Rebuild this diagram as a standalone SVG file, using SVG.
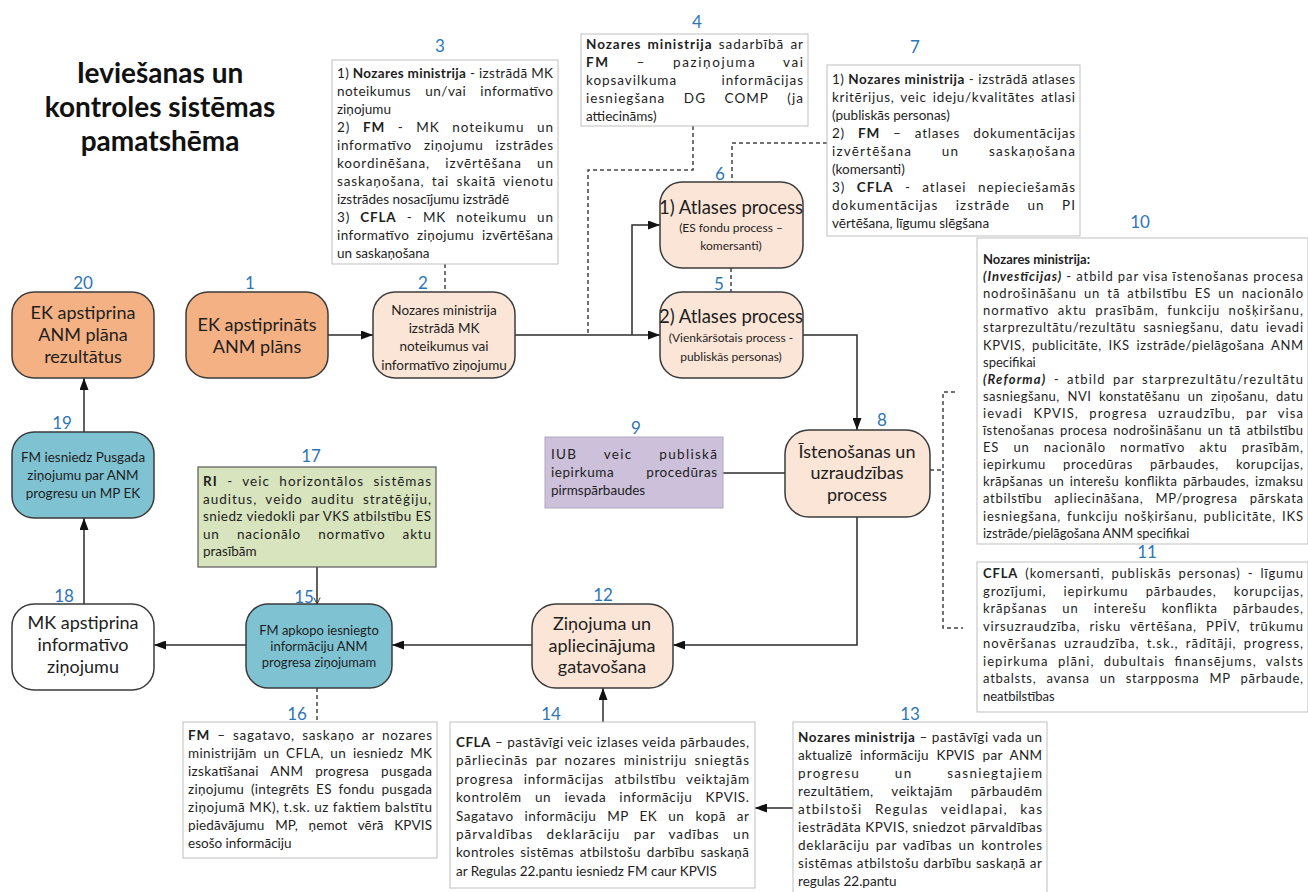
<svg xmlns="http://www.w3.org/2000/svg" width="1308" height="892" viewBox="0 0 1308 892">
<style>
text{font-family:Lato,"Liberation Sans",sans-serif;fill:#1e1e1e}
.t{font-size:13.5px}
.s{font-size:13px}
.b{font-weight:bold}
.bi{font-weight:bold;font-style:italic}
.n{font-size:17px;fill:#2E75B6;text-anchor:middle}
.nt{font-size:18px;text-anchor:middle}
.nm{font-size:13.5px;text-anchor:middle}
.ns{font-size:12px;text-anchor:middle}
.title{font-size:28px;font-weight:bold;text-anchor:middle;fill:#111}
.box{fill:#fff;stroke:#bfbfbf;stroke-width:1}
.nd{stroke:#3b3b3b;stroke-width:1.5}
.c{fill:none;stroke:#2b2b2b;stroke-width:1.5}
.d{fill:none;stroke:#444;stroke-width:1.5;stroke-dasharray:4 3}
</style>
<defs>
<marker id="a" viewBox="0 0 12 9" refX="12" refY="4.5" markerWidth="12" markerHeight="9" markerUnits="userSpaceOnUse" orient="auto"><path d="M0,0L12,4.5L0,9z" fill="#111"/></marker>
<marker id="o" viewBox="0 0 10 10" refX="9" refY="5" markerWidth="8" markerHeight="8" markerUnits="userSpaceOnUse" orient="auto"><path d="M1,1L9,5L1,9" fill="none" stroke="#333" stroke-width="1.2"/></marker>
</defs>

<g id="title">
<text class="title" x="160" y="83">Ieviešanas un</text>
<text class="title" x="160" y="117">kontroles sistēmas</text>
<text class="title" x="160" y="151">pamatshēma</text>
</g>

<g id="connectors">
<path class="c" d="M328,335H373" marker-end="url(#a)"/>
<path class="c" d="M515,335H660" marker-end="url(#a)"/>
<path class="c" d="M632,335V225H660" marker-end="url(#a)"/>
<path class="c" d="M803,335H857V430" marker-end="url(#a)"/>
<path class="c" d="M723,473H785"/>
<path class="c" d="M857,517V645H673" marker-end="url(#a)"/>
<path class="c" d="M603,722V688" marker-end="url(#a)"/>
<path class="c" d="M793,808H755" marker-end="url(#a)"/>
<path class="c" d="M532,645H392" marker-end="url(#a)"/>
<path class="c" d="M246,645H154" marker-end="url(#a)"/>
<path class="c" d="M84,604V518" marker-end="url(#a)"/>
<path class="c" d="M84,432V378" marker-end="url(#a)"/>
<path class="c" d="M317,567V604" stroke-width="1" marker-end="url(#o)"/>
<path class="d" d="M445,264V292"/>
<path class="d" d="M693,126V170H588V335"/>
<path class="d" d="M827,143H732V182"/>
<path class="d" d="M731,268V292"/>
<path class="d" d="M317,688V722"/>
<path class="d" d="M930,470H943"/>
<path class="d" d="M955,392H943V628H963"/>
</g>

<g id="n3">
<rect class="box" x="332" y="60" width="226" height="204"/>
<text class="n" x="440" y="52">3</text>
<text class="t" x="337" y="78" textLength="216" lengthAdjust="spacing">1) <tspan class="b">Nozares ministrija</tspan> - izstrādā MK</text>
<text class="t" x="337" y="96" textLength="216" lengthAdjust="spacing" word-spacing="10">noteikumus un/vai informatīvo</text>
<text class="t" x="337" y="114">ziņojumu</text>
<text class="t" x="337" y="132" textLength="216" lengthAdjust="spacing" word-spacing="8">2) <tspan class="b">FM</tspan> - MK noteikumu un</text>
<text class="t" x="337" y="150" textLength="216" lengthAdjust="spacing" word-spacing="8">informatīvo ziņojumu izstrādes</text>
<text class="t" x="337" y="168" textLength="216" lengthAdjust="spacing" word-spacing="11">koordinēšana, izvērtēšana un</text>
<text class="t" x="337" y="186" textLength="216" lengthAdjust="spacing" word-spacing="3">saskaņošana, tai skaitā vienotu</text>
<text class="t" x="337" y="204">izstrādes nosacījumu izstrādē</text>
<text class="t" x="337" y="222" textLength="216" lengthAdjust="spacing" word-spacing="6">3) <tspan class="b">CFLA</tspan> - MK noteikumu un</text>
<text class="t" x="337" y="240" textLength="216" lengthAdjust="spacing" word-spacing="4">informatīvo ziņojumu izvērtēšana</text>
<text class="t" x="337" y="258">un saskaņošana</text>
</g>

<g id="n4">
<rect class="box" x="581" y="34" width="227" height="92"/>
<text class="n" x="697" y="28">4</text>
<text class="t" x="586" y="49" textLength="217" lengthAdjust="spacing" word-spacing="2"><tspan class="b">Nozares ministrija</tspan> sadarbībā ar</text>
<text class="t" x="586" y="67" textLength="217" lengthAdjust="spacing" word-spacing="22"><tspan class="b">FM</tspan> – paziņojuma vai</text>
<text class="t" x="586" y="85" textLength="217" lengthAdjust="spacing" word-spacing="40">kopsavilkuma informācijas</text>
<text class="t" x="586" y="103" textLength="217" lengthAdjust="spacing" word-spacing="14">iesniegšana DG COMP (ja</text>
<text class="t" x="586" y="121">attiecināms)</text>
</g>

<g id="n7">
<rect class="box" x="827" y="65" width="253" height="171"/>
<text class="n" x="915" y="53">7</text>
<text class="t" x="832" y="84" textLength="243" lengthAdjust="spacing">1) <tspan class="b">Nozares ministrija</tspan> - izstrādā atlases</text>
<text class="t" x="832" y="102" textLength="243" lengthAdjust="spacing" word-spacing="2">kritērijus, veic ideju/kvalitātes atlasi</text>
<text class="t" x="832" y="120">(publiskās personas)</text>
<text class="t" x="832" y="138" textLength="243" lengthAdjust="spacing" word-spacing="9">2) <tspan class="b">FM</tspan> – atlases dokumentācijas</text>
<text class="t" x="832" y="156" textLength="243" lengthAdjust="spacing" word-spacing="25">izvērtēšana un saskaņošana</text>
<text class="t" x="832" y="174">(komersanti)</text>
<text class="t" x="832" y="192" textLength="243" lengthAdjust="spacing" word-spacing="7">3) <tspan class="b">CFLA</tspan> - atlasei nepieciešamās</text>
<text class="t" x="832" y="210" textLength="243" lengthAdjust="spacing" word-spacing="13">dokumentācijas izstrāde un PI</text>
<text class="t" x="832" y="228">vērtēšana, līgumu slēgšana</text>
</g>

<g id="n6">
<rect class="nd" x="660" y="182" width="143" height="86" rx="22" fill="#FBE5D6"/>
<text class="n" x="720" y="180">6</text>
<text class="nt" x="731" y="214" style="font-size:18.5px">1) Atlases process</text>
<text class="ns" x="731" y="232">(ES fondu process –</text>
<text class="ns" x="731" y="250">komersanti)</text>
</g>

<g id="n5">
<rect class="nd" x="660" y="292" width="143" height="86" rx="22" fill="#FBE5D6"/>
<text class="n" x="719" y="290">5</text>
<text class="nt" x="731" y="323" style="font-size:18.5px">2) Atlases process</text>
<text class="ns" x="731" y="342">(Vienkāršotais process -</text>
<text class="ns" x="731" y="361">publiskās personas)</text>
</g>

<g id="n20">
<rect class="nd" x="12" y="292" width="142" height="86" rx="22" fill="#F4B183"/>
<text class="n" x="83" y="289">20</text>
<text class="nt" x="83" y="319">EK apstiprina</text>
<text class="nt" x="83" y="341">ANM plāna</text>
<text class="nt" x="83" y="363">rezultātus</text>
</g>

<g id="n1">
<rect class="nd" x="186" y="292" width="142" height="86" rx="22" fill="#F4B183"/>
<text class="n" x="250" y="289">1</text>
<text class="nt" x="257" y="331">EK apstiprināts</text>
<text class="nt" x="257" y="353">ANM plāns</text>
</g>

<g id="n2">
<rect class="nd" x="373" y="292" width="142" height="86" rx="22" fill="#FBE5D6"/>
<text class="n" x="423" y="289">2</text>
<text class="nm" x="444" y="315">Nozares ministrija</text>
<text class="nm" x="444" y="333">izstrādā MK</text>
<text class="nm" x="444" y="351">noteikumus vai</text>
<text class="nm" x="444" y="370">informatīvo ziņojumu</text>
</g>

<g id="n10">
<rect class="box" x="977" y="238" width="331" height="306"/>
<text class="n" x="1140" y="228">10</text>
<text class="s b" x="983" y="264">Nozares ministrija:</text>
<text class="s" x="983" y="281.1" textLength="320" lengthAdjust="spacing"><tspan class="bi">(Investīcijas)</tspan> - atbild par visa īstenošanas procesa</text>
<text class="s" x="983" y="298.2" textLength="320" lengthAdjust="spacing" word-spacing="3">nodrošināšanu un tā atbilstību ES un nacionālo</text>
<text class="s" x="983" y="315.3" textLength="320" lengthAdjust="spacing" word-spacing="4">normatīvo aktu prasībām,  funkciju nošķiršanu,</text>
<text class="s" x="983" y="332.4" textLength="320" lengthAdjust="spacing" word-spacing="3">starprezultātu/rezultātu sasniegšanu, datu ievadi</text>
<text class="s" x="983" y="349.5" textLength="320" lengthAdjust="spacing" word-spacing="3">KPVIS, publicitāte, IKS izstrāde/pielāgošana ANM</text>
<text class="s" x="983" y="366.6">specifikai</text>
<text class="s" x="983" y="383.7" textLength="320" lengthAdjust="spacing" word-spacing="3"><tspan class="bi">(Reforma)</tspan> -  atbild par starprezultātu/rezultātu</text>
<text class="s" x="983" y="400.8" textLength="320" lengthAdjust="spacing" word-spacing="4">sasniegšanu, NVI konstatēšanu un ziņošanu, datu</text>
<text class="s" x="983" y="417.9" textLength="320" lengthAdjust="spacing" word-spacing="6">ievadi KPVIS, progresa uzraudzību,  par visa</text>
<text class="s" x="983" y="435" textLength="320" lengthAdjust="spacing" word-spacing="2">īstenošanas procesa nodrošināšanu un tā atbilstību</text>
<text class="s" x="983" y="452.1" textLength="320" lengthAdjust="spacing" word-spacing="10">ES un nacionālo normatīvo aktu prasībām,</text>
<text class="s" x="983" y="469.2" textLength="320" lengthAdjust="spacing" word-spacing="13">iepirkumu procedūras pārbaudes, korupcijas,</text>
<text class="s" x="983" y="486.3" textLength="320" lengthAdjust="spacing" word-spacing="2">krāpšanas un interešu konflikta pārbaudes, izmaksu</text>
<text class="s" x="983" y="503.4" textLength="320" lengthAdjust="spacing" word-spacing="8">atbilstību apliecināšana, MP/progresa pārskata</text>
<text class="s" x="983" y="520.5" textLength="320" lengthAdjust="spacing" word-spacing="2">iesniegšana, funkciju nošķiršanu, publicitāte, IKS</text>
<text class="s" x="983" y="537.6">izstrāde/pielāgošana ANM specifikai</text>
</g>

<g id="n11">
<rect class="box" x="977" y="562" width="331" height="150"/>
<text class="n" x="1147" y="558">11</text>
<text class="s" x="983" y="578" textLength="320" lengthAdjust="spacing" word-spacing="3"><tspan class="b">CFLA</tspan> (komersanti, publiskās personas) - līgumu</text>
<text class="s" x="983" y="595.5" textLength="320" lengthAdjust="spacing" word-spacing="13">grozījumi, iepirkumu pārbaudes, korupcijas,</text>
<text class="s" x="983" y="613" textLength="320" lengthAdjust="spacing" word-spacing="11">krāpšanas un interešu konflikta pārbaudes,</text>
<text class="s" x="983" y="630.5" textLength="320" lengthAdjust="spacing" word-spacing="5">virsuzraudzība, risku vērtēšana, PPĪV, trūkumu</text>
<text class="s" x="983" y="648" textLength="320" lengthAdjust="spacing" word-spacing="3">novēršanas uzraudzība, t.sk., rādītāji, progress,</text>
<text class="s" x="983" y="665.5" textLength="320" lengthAdjust="spacing" word-spacing="5">iepirkuma plāni, dubultais finansējums, valsts</text>
<text class="s" x="983" y="683" textLength="320" lengthAdjust="spacing" word-spacing="6">atbalsts,  avansa un starpposma MP pārbaude,</text>
<text class="s" x="983" y="700.5">neatbilstības</text>
</g>

<g id="n8">
<rect class="nd" x="785" y="430" width="145" height="87" rx="24" fill="#FBE5D6"/>
<text class="n" x="882" y="426">8</text>
<text class="nt" x="857" y="458">Īstenošanas un</text>
<text class="nt" x="857" y="479">uzraudzības</text>
<text class="nt" x="857" y="501">process</text>
</g>

<g id="n9">
<rect x="545" y="437" width="178" height="71" fill="#CCC0DA" stroke="#b0a8bd" stroke-width="1"/>
<text class="n" x="636" y="434">9</text>
<text class="t" x="551" y="459" textLength="166" lengthAdjust="spacing" word-spacing="22">IUB veic publiskā</text>
<text class="t" x="551" y="477" textLength="166" lengthAdjust="spacing" word-spacing="28">iepirkuma procedūras</text>
<text class="t" x="551" y="495">pirmspārbaudes</text>
</g>

<g id="n12">
<rect class="nd" x="532" y="604" width="141" height="84" rx="24" fill="#FBE5D6"/>
<text class="n" x="603" y="601">12</text>
<text class="nt" x="602" y="630">Ziņojuma un</text>
<text class="nt" x="602" y="652">apliecinājuma</text>
<text class="nt" x="602" y="673">gatavošana</text>
</g>

<g id="n13">
<rect class="box" x="793" y="722" width="254" height="175"/>
<text class="n" x="910" y="720">13</text>
<text class="t" x="798" y="742" textLength="244" lengthAdjust="spacing"><tspan class="b">Nozares ministrija</tspan> –  pastāvīgi vada un</text>
<text class="t" x="798" y="760" textLength="244" lengthAdjust="spacing" word-spacing="4">aktualizē informāciju KPVIS par ANM</text>
<text class="t" x="798" y="778" textLength="244" lengthAdjust="spacing" word-spacing="30">progresu un sasniegtajiem</text>
<text class="t" x="798" y="796" textLength="244" lengthAdjust="spacing" word-spacing="14">rezultātiem, veiktajām pārbaudēm</text>
<text class="t" x="798" y="814" textLength="244" lengthAdjust="spacing" word-spacing="8">atbilstoši Regulas veidlapai, kas</text>
<text class="t" x="798" y="832" textLength="244" lengthAdjust="spacing">iestrādāta KPVIS, sniedzot pārvaldības</text>
<text class="t" x="798" y="850" textLength="244" lengthAdjust="spacing" word-spacing="2">deklarāciju par vadības un kontroles</text>
<text class="t" x="798" y="868" textLength="244" lengthAdjust="spacing">sistēmas atbilstošu darbību saskaņā ar</text>
<text class="t" x="798" y="886">regulas 22.pantu</text>
</g>

<g id="n14">
<rect class="box" x="450" y="722" width="305" height="166"/>
<text class="n" x="551" y="720">14</text>
<text class="t" x="456" y="747" textLength="293" lengthAdjust="spacing"><tspan class="b">CFLA</tspan> – pastāvīgi veic izlases veida pārbaudes,</text>
<text class="t" x="456" y="765.4" textLength="293" lengthAdjust="spacing" word-spacing="3">pārliecinās par nozares ministriju sniegtās</text>
<text class="t" x="456" y="783.8" textLength="293" lengthAdjust="spacing" word-spacing="6">progresa informācijas atbilstību veiktajām</text>
<text class="t" x="456" y="802.2" textLength="293" lengthAdjust="spacing" word-spacing="9">kontrolēm un ievada informāciju KPVIS.</text>
<text class="t" x="456" y="820.6" textLength="293" lengthAdjust="spacing" word-spacing="7">Sagatavo informāciju MP EK un kopā ar</text>
<text class="t" x="456" y="839" textLength="293" lengthAdjust="spacing" word-spacing="9">pārvaldības deklarāciju par vadības un</text>
<text class="t" x="456" y="857.4" textLength="293" lengthAdjust="spacing" word-spacing="2">kontroles sistēmas atbilstošu darbību saskaņā</text>
<text class="t" x="456" y="875.8">ar Regulas 22.pantu iesniedz FM caur KPVIS</text>
</g>

<g id="n15">
<rect class="nd" x="246" y="604" width="146" height="84" rx="22" fill="#7FC3D3"/>
<text class="n" x="304" y="603">15</text>
<text class="s" x="319" y="635" text-anchor="middle">FM apkopo iesniegto</text>
<text class="s" x="319" y="651" text-anchor="middle">informāciju ANM</text>
<text class="s" x="319" y="667" text-anchor="middle">progresa ziņojumam</text>
</g>

<g id="n16">
<rect class="box" x="183" y="722" width="254" height="136"/>
<text class="n" x="297" y="720">16</text>
<text class="t" x="188" y="740" textLength="244" lengthAdjust="spacing" word-spacing="3"><tspan class="b">FM</tspan> –  sagatavo, saskaņo ar nozares</text>
<text class="t" x="188" y="758" textLength="244" lengthAdjust="spacing" word-spacing="3">ministrijām un CFLA, un iesniedz MK</text>
<text class="t" x="188" y="776" textLength="244" lengthAdjust="spacing" word-spacing="8">izskatīšanai ANM progresa pusgada</text>
<text class="t" x="188" y="794" textLength="244" lengthAdjust="spacing" word-spacing="3">ziņojumu (integrēts ES fondu pusgada</text>
<text class="t" x="188" y="812" textLength="244" lengthAdjust="spacing">ziņojumā MK), t.sk. uz faktiem balstītu</text>
<text class="t" x="188" y="830" textLength="244" lengthAdjust="spacing" word-spacing="7">piedāvājumu MP, ņemot vērā KPVIS</text>
<text class="t" x="188" y="848">esošo informāciju</text>
</g>

<g id="n17">
<rect x="198" y="467" width="238" height="100" fill="#D7E4BD" stroke="#595959" stroke-width="1.2"/>
<text class="n" x="311" y="462">17</text>
<text class="t" x="203" y="486" textLength="228" lengthAdjust="spacing" word-spacing="5"><tspan class="b">RI</tspan> - veic horizontālos sistēmas</text>
<text class="t" x="203" y="503.5" textLength="228" lengthAdjust="spacing" word-spacing="4">auditus, veido auditu stratēģiju,</text>
<text class="t" x="203" y="521" textLength="228" lengthAdjust="spacing">sniedz viedokli par VKS atbilstību ES</text>
<text class="t" x="203" y="538.5" textLength="228" lengthAdjust="spacing" word-spacing="13">un nacionālo normatīvo aktu</text>
<text class="t" x="203" y="556">prasībām</text>
</g>

<g id="n18">
<rect class="nd" x="12" y="604" width="142" height="86" rx="22" fill="#ffffff"/>
<text class="n" x="64" y="602">18</text>
<text class="nt" x="83" y="629">MK apstiprina</text>
<text class="nt" x="83" y="651">informatīvo</text>
<text class="nt" x="83" y="673">ziņojumu</text>
</g>

<g id="n19">
<rect class="nd" x="12" y="432" width="142" height="86" rx="22" fill="#7FC3D3"/>
<text class="n" x="62" y="429">19</text>
<text class="nm" x="83" y="462">FM iesniedz Pusgada</text>
<text class="nm" x="83" y="480">ziņojumu par ANM</text>
<text class="nm" x="83" y="498">progresu un MP EK</text>
</g>
</svg>
